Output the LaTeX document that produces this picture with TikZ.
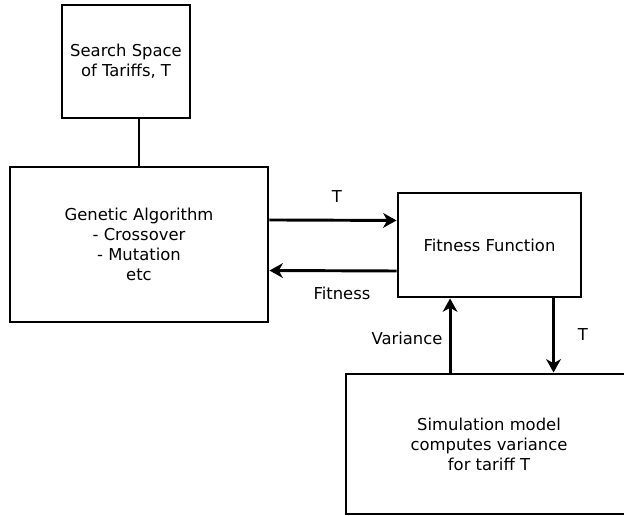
\documentclass[tikz,border=0pt]{standalone}
\usepackage{fontspec}
\setmainfont{DejaVu Sans}
\usetikzlibrary{arrows.meta,positioning}

\begin{document}
\begin{tikzpicture}[x=0.75pt, y=-0.75pt, line width=2.2pt,
    box/.style={draw, align=center, font=\fontsize{12.3}{15}\selectfont},
    arr/.style={-{Stealth[length=10pt, width=11pt, inset=3pt]}},
    lbl/.style={font=\fontsize{12.3}{15}\selectfont}]
    \useasboundingbox (0,0) rectangle (624,516);
    \node[box, minimum width=96pt, minimum height=84.75pt] (space) at (126,61.5) {Search Space\\of Tariffs, T};
    \node[box, minimum width=193.5pt, minimum height=116.25pt] (ga) at (139,244.5) {Genetic Algorithm\\- Crossover\\- Mutation\\etc};
    \node[box, minimum width=137.25pt, minimum height=78pt] (fit) at (489.5,245) {Fitness Function};
    \node[box, minimum width=214.5pt, minimum height=105pt] (sim) at (489,444) {Simulation model\\computes variance\\for tariff T};
    \draw (ga.north |- space.south) -- (ga.north);
    \draw[arr] ([yshift=18.4pt]ga.east) -- ([yshift=18.4pt]fit.west);
    \draw[arr] ([yshift=-19.5pt]fit.west) -- ([yshift=-19.5pt]ga.east);
    \draw[arr] ([xshift=-29.2pt]sim.north) -- ([xshift=-29.2pt]sim.north |- fit.south);
    \draw[arr] ([xshift=48.4pt]sim.north |- fit.south) -- ([xshift=48.4pt]sim.north);
    \node[lbl] (tout) at (337,197) {T};
    \node[lbl] (fitlbl) at (342,293) {Fitness};
    \node[lbl] (varlbl) at (407,338) {Variance};
    \node[lbl] (tin) at (583,335) {T};
\end{tikzpicture}
\end{document}
